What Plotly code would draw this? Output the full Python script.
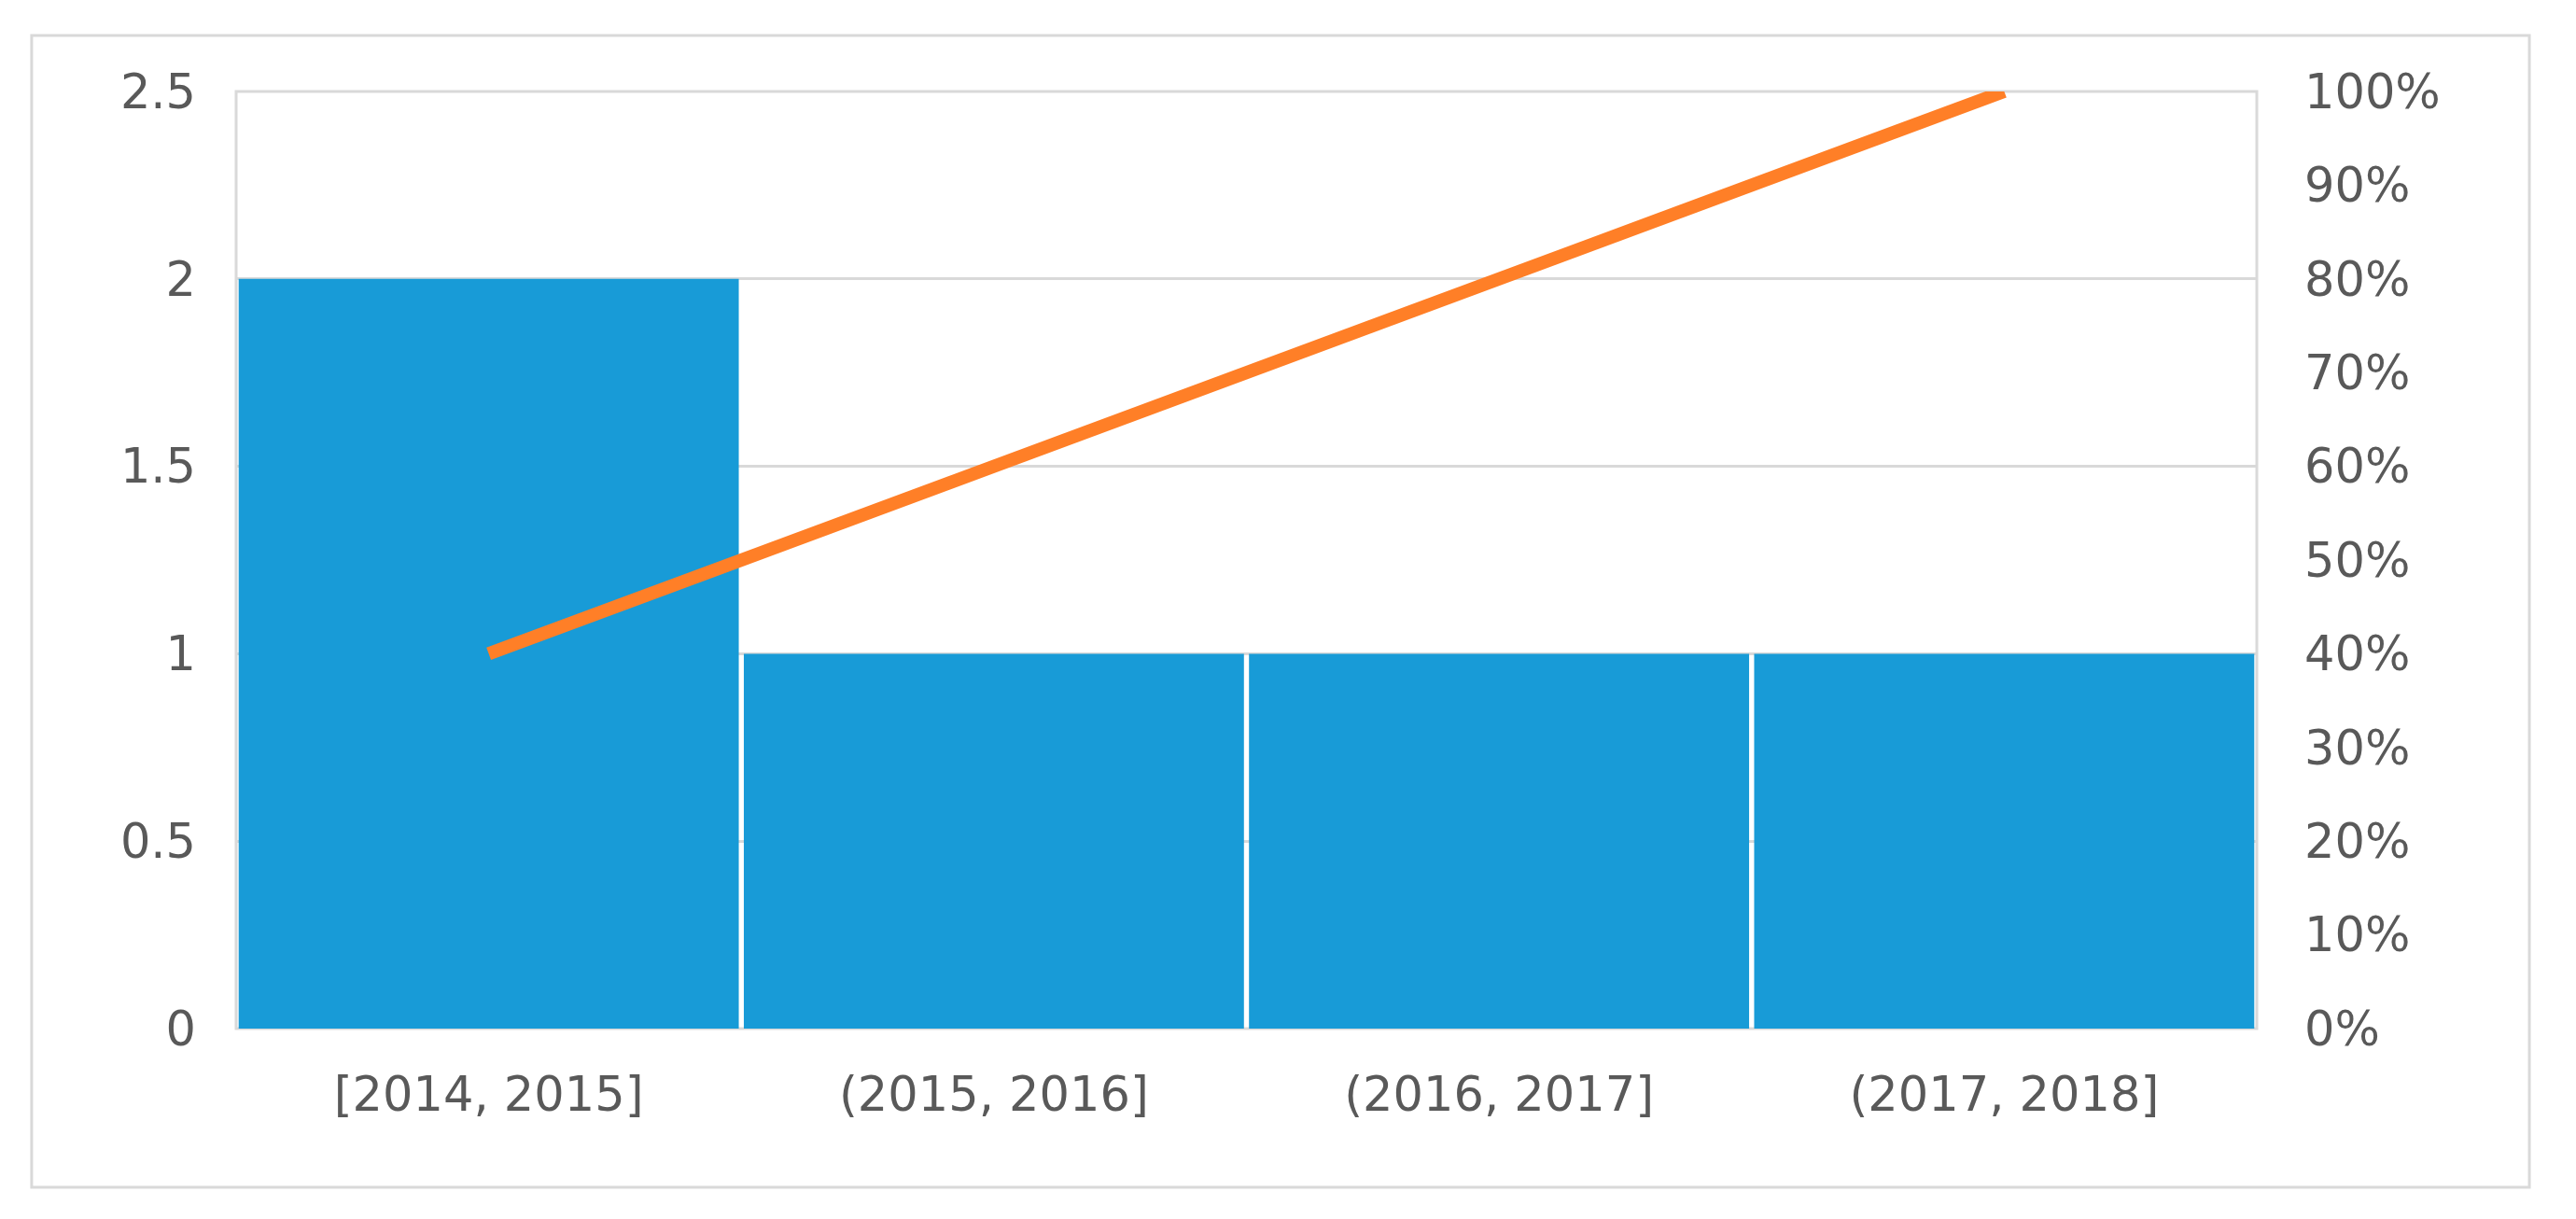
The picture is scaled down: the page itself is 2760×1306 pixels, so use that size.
import plotly.graph_objects as go

categories = ["[2014, 2015]", "(2015, 2016]", "(2016, 2017]", "(2017, 2018]"]
counts = [2, 1, 1, 1]
cumulative_pct = [0.40, 0.60, 0.80, 1.00]
left_ticks = [0, 0.5, 1, 1.5, 2, 2.5]
left_labels = ["0", "0.5", "1", "1.5", "2", "2.5"]
right_ticks = [i / 10 for i in range(11)]
right_labels = [f"{i*10}%" for i in range(11)]

BAR = "#189BD7"
LINE = "#FF7F27"
TXT = "#595959"
GRID = "#D9D9D9"
FONT = "DejaVu Sans"
FS = 51

fig = go.Figure()
fig.add_trace(go.Bar(x=categories, y=counts, marker=dict(color=BAR, line=dict(width=0)),
                     yaxis="y", showlegend=False))
fig.add_trace(go.Scatter(x=categories, y=cumulative_pct, mode="lines",
                         line=dict(color=LINE, width=14), yaxis="y2", showlegend=False))

fig.update_layout(
    width=2752, height=1298,
    margin=dict(l=245, r=342, t=90, b=204),
    paper_bgcolor="white", plot_bgcolor="white",
    bargap=0.01,
    font=dict(family=FONT, size=FS, color=TXT),
    xaxis=dict(showgrid=False, showline=False, zeroline=False, ticks="",
               tickfont=dict(size=FS, color=TXT), ticklabelstandoff=36),
    yaxis=dict(range=[0, 2.5], tickvals=left_ticks, ticktext=left_labels,
               showgrid=True, gridcolor=GRID, gridwidth=3, zeroline=False,
               showline=False, ticks="", ticklabelstandoff=42,
               tickfont=dict(size=FS, color=TXT)),
    yaxis2=dict(range=[0, 1], tickvals=right_ticks, ticktext=right_labels,
                overlaying="y", side="right", showgrid=False, zeroline=False,
                showline=False, ticks="", ticklabelstandoff=50,
                tickfont=dict(size=FS, color=TXT)),
)

# plot-area border (light) and outer chart frame
fig.add_shape(type="rect", xref="paper", yref="paper", x0=0, y0=0, x1=1, y1=1,
              line=dict(color=GRID, width=3), layer="below")
fig.add_shape(type="rect", xref="paper", yref="paper", x0=-0.1012, y0=-0.1693,
              x1=1.1349, y1=1.0598, line=dict(color="#D9D9D9", width=3), layer="below")

fig.write_html("out.html")
